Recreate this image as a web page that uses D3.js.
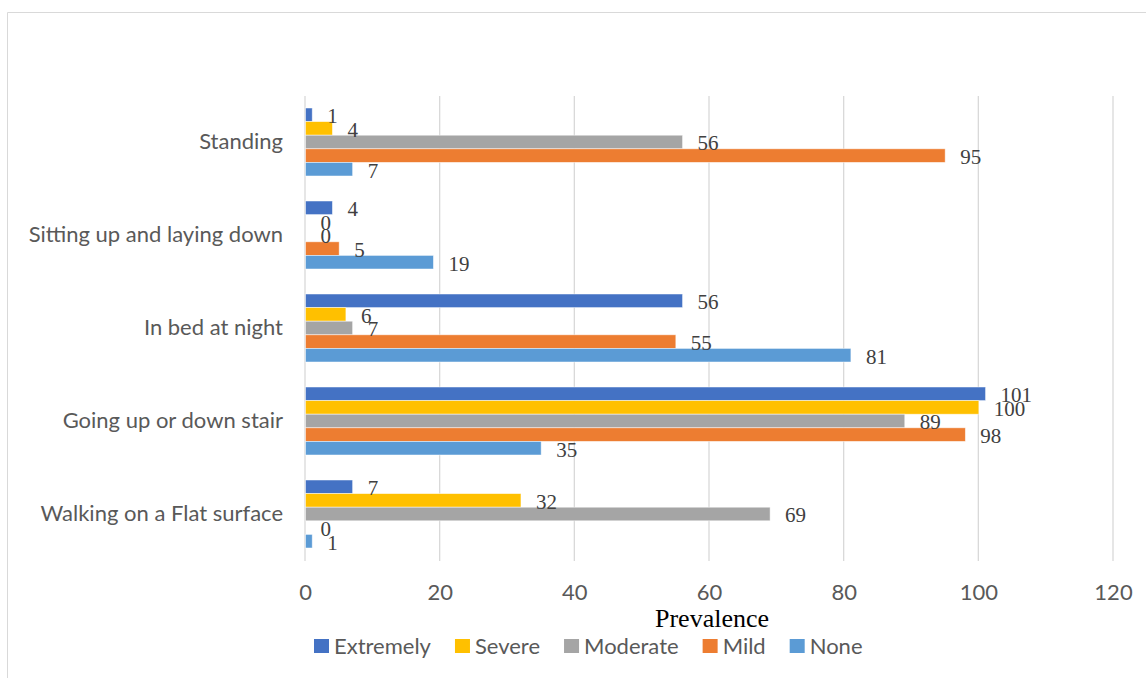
<!DOCTYPE html>
<html>
<head>
<meta charset="utf-8">
<script src="https://cdn.jsdelivr.net/npm/d3@7"></script>
<style>
  body { margin: 0; background: #fff; }
  svg { display: block; }
</style>
</head>
<body>
<div class="chart"></div>
<script>
const categories = ["Standing", "Sitting up and laying down", "In bed at night", "Going up or down stair", "Walking on a Flat surface"];
const seriesNames = ["Extremely", "Severe", "Moderate", "Mild", "None"];
const extremely = [1, 4, 56, 101, 7];
const severe = [4, 0, 6, 100, 32];
const moderate = [56, 0, 7, 89, 69];
const mild = [95, 5, 55, 98, 0];
const none = [7, 19, 81, 35, 1];
const xTicks = [0, 20, 40, 60, 80, 100, 120];
const colors = ["#4472C4", "#FFC000", "#A5A5A5", "#ED7D31", "#5B9BD5"];

const seriesValues = [extremely, severe, moderate, mild, none];
const data = categories.map((c, i) => ({
  category: c,
  values: seriesNames.map((s, j) => ({ series: s, value: seriesValues[j][i] }))
}));

const width = 1146;
const height = 678;
const sansFont = "Lato, 'Open Sans', sans-serif";
const serifFont = "'Liberation Serif', 'Times New Roman', serif";

const svg = d3.select(".chart")
  .append("svg")
  .attr("width", width)
  .attr("height", height);

// chart border (top + left visible)
svg.append("path")
  .attr("d", `M7.5,${height} V12.5 H${width}`)
  .attr("fill", "none")
  .attr("stroke", "#d9d9d9")
  .attr("stroke-width", 1);

const xScale = d3.scaleLinear()
  .domain([0, 120])
  .range([305, 1113]);

const yScale = d3.scaleBand()
  .domain(categories)
  .range([95.5, 560.5])
  .paddingInner(0.269)
  .paddingOuter(0.1345);

const ySub = d3.scaleBand()
  .domain(seriesNames)
  .range([0, yScale.bandwidth()]);

const color = d3.scaleOrdinal(seriesNames, colors);

// gridlines
svg.append("g")
  .selectAll("line")
  .data(xTicks)
  .join("line")
  .attr("x1", d => xScale(d))
  .attr("x2", d => xScale(d))
  .attr("y1", 96)
  .attr("y2", 561)
  .attr("stroke", "#d9d9d9")
  .attr("stroke-width", 1.3);

// x axis tick labels
const xAxis = svg.append("g")
  .attr("transform", "translate(0,592)")
  .call(d3.axisBottom(xScale).tickValues(xTicks).tickSize(0).tickPadding(0));
xAxis.select(".domain").remove();
xAxis.selectAll("text")
  .attr("dy", "0.35em")
  .attr("fill", "#595959")
  .style("font-family", sansFont)
  .style("font-size", "22px");

// category labels
const yAxis = svg.append("g")
  .attr("transform", "translate(283,0)")
  .call(d3.axisLeft(yScale).tickSize(0).tickPadding(0));
yAxis.select(".domain").remove();
yAxis.selectAll("text")
  .attr("fill", "#595959")
  .style("font-family", sansFont)
  .style("font-size", "22px");

// bars
const groups = svg.append("g")
  .selectAll("g")
  .data(data)
  .join("g")
  .attr("transform", d => `translate(0,${yScale(d.category)})`);

groups.selectAll("rect")
  .data(d => d.values)
  .join("rect")
  .attr("x", xScale(0) + 0.5)
  .attr("y", d => ySub(d.series))
  .attr("width", d => Math.max(0, xScale(d.value) - xScale(0)))
  .attr("height", ySub.bandwidth())
  .attr("fill", d => color(d.series))
  .attr("stroke", "#fff")
  .attr("stroke-opacity", 0.6)
  .attr("stroke-width", 0.8);

groups.selectAll("text")
  .data(d => d.values)
  .join("text")
  .attr("x", d => xScale(d.value) + 15.5)
  .attr("y", d => ySub(d.series) + ySub.bandwidth() / 2 + 1)
  .attr("dy", "0.35em")
  .attr("fill", "#404040")
  .style("font-family", serifFont)
  .style("font-size", "21px")
  .text(d => d.value);

// axis title
svg.append("text")
  .attr("x", 712)
  .attr("y", 627)
  .attr("text-anchor", "middle")
  .attr("fill", "#000")
  .style("font-family", serifFont)
  .style("font-size", "26px")
  .text("Prevalence");

// legend
const legend = svg.append("g")
  .attr("transform", "translate(314,646)");

let offset = 0;
seriesNames.forEach(name => {
  const item = legend.append("g")
    .attr("transform", `translate(${offset},0)`);
  item.append("rect")
    .attr("x", 0)
    .attr("y", -7)
    .attr("width", 15)
    .attr("height", 14)
    .attr("fill", color(name));
  const t = item.append("text")
    .attr("x", 20)
    .attr("y", 0)
    .attr("dy", "0.35em")
    .attr("fill", "#595959")
    .style("font-family", sansFont)
    .style("font-size", "22px")
    .text(name);
  offset += 20 + t.node().getComputedTextLength() + 24;
});
</script>
</body>
</html>
